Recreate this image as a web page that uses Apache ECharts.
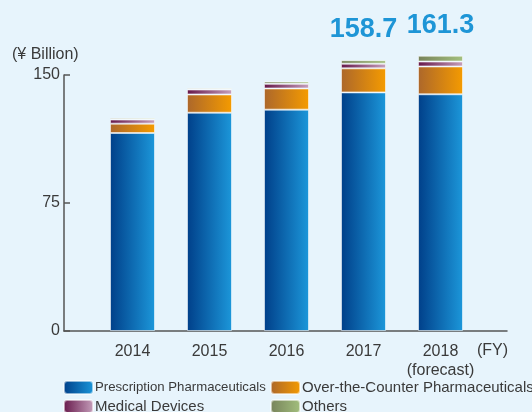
<!DOCTYPE html>
<html>
<head>
<meta charset="utf-8">
<script src="https://cdn.jsdelivr.net/npm/echarts@6/dist/echarts.min.js"></script>
<style>
  html, body { margin: 0; padding: 0; background: #E7F4FC; }
  #chart { width: 532px; height: 412px; }
</style>
</head>
<body>
<div id="chart"></div>
<script>
// Net sales by segment (¥ billion), fiscal years
const categories = ['2014', '2015', '2016', '2017', '2018\n(forecast)'];
const prescription = [116.0, 127.9, 129.7, 139.8, 138.7];
const otc = [5.5, 10.7, 12.4, 14.1, 16.3];
const medical = [2.4, 2.9, 2.7, 2.7, 2.9];
const others = [0.9, 0.8, 1.4, 2.1, 3.4];
// Years whose total is printed above the bar
const totalLabelled = [false, false, false, true, true];
const yTicks = [0, 75, 150];

const seriesNames = ['Prescription Pharmaceuticals', 'Over-the-Counter Pharmaceuticals', 'Medical Devices', 'Others'];

function hGrad(from, to) {
  return new echarts.graphic.LinearGradient(0, 0, 1, 0, [
    { offset: 0, color: from },
    { offset: 1, color: to }
  ]);
}

const fills = [
  hGrad('#003F89', '#1C97DA'),
  hGrad('#AC672B', '#F59B00'),
  hGrad('#66174A', '#C6A0BC'),
  hGrad('#77825A', '#A3C07E')
];

const totals = prescription.map((v, i) => v + otc[i] + medical[i] + others[i]);

const font = "'Liberation Sans', Arial, sans-serif";
const axisColor = '#555555';
const textColor = '#3A3A3A';

const values = [prescription, otc, medical, others];

const series = values.map((data, k) => ({
  name: seriesNames[k],
  type: 'bar',
  stack: 'sales',
  xAxisIndex: 1,
  yAxisIndex: 1,
  barWidth: 45,
  clip: false,
  data: data,
  itemStyle: {
    color: fills[k],
    borderColor: 'rgba(255,255,255,0.55)',
    borderWidth: 1
  },
  label: k === 3 ? {
    show: true,
    position: 'top',
    distance: 17,
    fontFamily: font,
    fontSize: 27,
    fontWeight: 'bold',
    color: '#1E95D6',
    formatter: p => totalLabelled[p.dataIndex] ? totals[p.dataIndex].toFixed(1) : ''
  } : { show: false },
  emphasis: { disabled: true }
}));

// The long first legend entry is set a little tighter so both columns fit
const legendText = {
  fontFamily: font,
  fontSize: 15,
  lineHeight: 13,
  color: textColor,
  padding: [0, 0, 0, -3],
  rich: {
    tight: { fontFamily: font, fontSize: 13.2, lineHeight: 13, color: textColor }
  }
};
const legendBase = {
  orient: 'vertical',
  top: 380,
  height: 40,
  padding: 0,
  itemWidth: 29,
  itemHeight: 13,
  itemGap: 4,
  selectedMode: false,
  textStyle: legendText,
  formatter: name => name === seriesNames[0] ? '{tight|' + name + '}' : name
};

const chart = echarts.init(document.getElementById('chart'), null, { renderer: 'canvas' });
chart.setOption({
  backgroundColor: '#E7F4FC',
  animation: false,
  textStyle: { fontFamily: font },
  title: {
    text: '(¥ Billion)',
    left: 7,
    top: 42,
    textStyle: { fontFamily: font, fontSize: 16, fontWeight: 'normal', color: textColor }
  },
  legend: [
    Object.assign({}, legendBase, { left: 63, data: [seriesNames[0], seriesNames[2]] }),
    Object.assign({}, legendBase, { left: 270, data: [seriesNames[1], seriesNames[3]] })
  ],
  grid: [
    { left: 64, right: 25, top: 75, bottom: 81 },
    { left: 94, right: 53, top: 75, bottom: 81 }
  ],
  xAxis: [
    {
      type: 'value',
      gridIndex: 0,
      min: 0,
      max: 1,
      axisLine: { show: true, lineStyle: { color: axisColor, width: 1.5 } },
      axisTick: { show: false },
      axisLabel: { show: false },
      splitLine: { show: false },
      name: '(FY)',
      nameLocation: 'end',
      nameGap: -30,
      nameTextStyle: { fontFamily: font, fontSize: 16, color: textColor, verticalAlign: 'top', padding: [12, 0, 0, 0] }
    },
    {
      type: 'category',
      gridIndex: 1,
      data: categories,
      axisLine: { show: false },
      axisTick: { show: false },
      axisLabel: { interval: 0, fontFamily: font, fontSize: 16, color: textColor, margin: 11, lineHeight: 19 }
    }
  ],
  yAxis: [
    {
      type: 'value',
      gridIndex: 0,
      min: yTicks[0],
      max: yTicks[yTicks.length - 1],
      interval: yTicks[1] - yTicks[0],
      axisLine: { show: true, lineStyle: { color: axisColor, width: 1.5 } },
      axisTick: { show: true, inside: true, length: 6, lineStyle: { color: axisColor, width: 1.5 } },
      axisLabel: { fontFamily: font, fontSize: 16, color: textColor, margin: 4 },
      splitLine: { show: false }
    },
    {
      type: 'value',
      gridIndex: 1,
      min: yTicks[0],
      max: yTicks[yTicks.length - 1],
      show: false
    }
  ],
  series: series
});
</script>
</body>
</html>
